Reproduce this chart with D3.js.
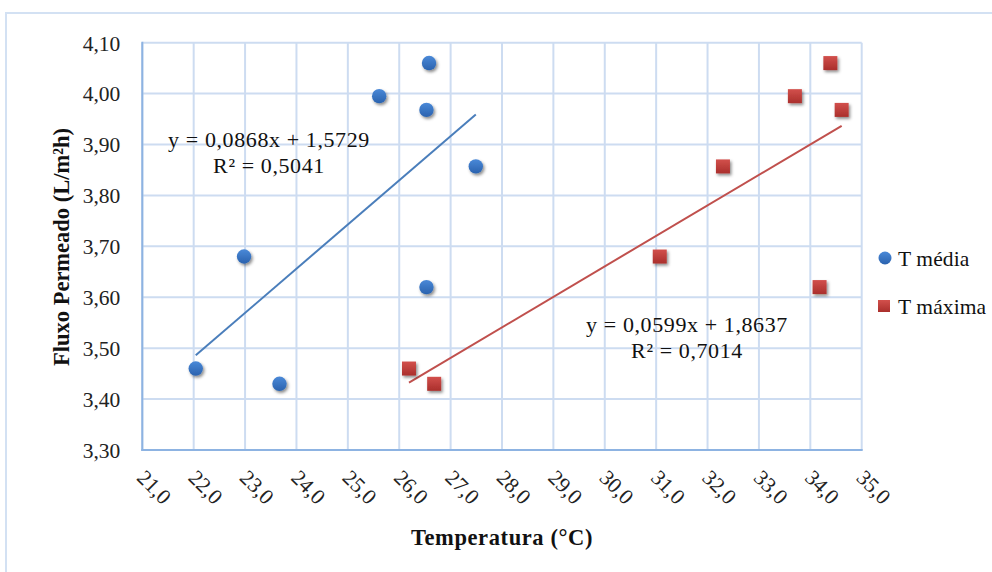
<!DOCTYPE html>
<html>
<head>
<meta charset="utf-8">
<script src="https://cdn.jsdelivr.net/npm/d3@7"></script>
<style>
  html, body { margin: 0; padding: 0; background: #ffffff; }
  svg { display: block; }
</style>
</head>
<body>
<div id="chart"></div>
<script>
// ---------------- data ----------------
const fluxo = [3.46, 3.68, 3.43, 3.995, 4.06, 3.968, 3.62, 3.857];
const tMedia = [22.04, 22.98, 23.67, 25.61, 26.58, 26.53, 26.53, 27.49];
const tMaxima = [26.19, 31.07, 26.68, 33.70, 34.39, 34.61, 34.18, 32.30];
const seriesNames = ["T média", "T máxima"];
const trendMedia = { slope: 0.0868, intercept: 1.5729, eq: "y = 0,0868x + 1,5729", r2: "R² = 0,5041" };
const trendMaxima = { slope: 0.0599, intercept: 1.8637, eq: "y = 0,0599x + 1,8637", r2: "R² = 0,7014" };
const xTicks = [21, 22, 23, 24, 25, 26, 27, 28, 29, 30, 31, 32, 33, 34, 35];
const yTicks = [3.30, 3.40, 3.50, 3.60, 3.70, 3.80, 3.90, 4.00, 4.10];
const xTitle = "Temperatura (°C)";
const yTitle = "Fluxo Permeado (L/m²h)";

// ---------------- setup ----------------
const W = 992, H = 572;
const plot = { left: 142.3, right: 861.7, top: 42.7, bottom: 450 };
const serif = "'Liberation Serif', 'Times New Roman', Times, serif";
const blueLine = "#4a7ebb", redLine = "#c0504d";
const gridColor = "#cddcf1", axisColor = "#8db3e2";

const locale = d3.formatLocale({ decimal: ",", thousands: ".", grouping: [3], currency: ["", ""] });
const fx = locale.format(".1f"), fy = locale.format(".2f");

const svg = d3.select("#chart").append("svg").attr("width", W).attr("height", H);
svg.append("rect").attr("width", W).attr("height", H).attr("fill", "#fff");

const defs = svg.append("defs");
const sh = defs.append("filter").attr("id", "shadow").attr("x", "-50%").attr("y", "-50%").attr("width", "200%").attr("height", "200%");
sh.append("feDropShadow").attr("dx", 1.5).attr("dy", 2).attr("stdDeviation", 1.6)
  .attr("flood-color", "#000").attr("flood-opacity", 0.45);
const gB = defs.append("linearGradient").attr("id", "gBlue").attr("x1", 0).attr("y1", 0).attr("x2", 0).attr("y2", 1);
gB.append("stop").attr("offset", "0%").attr("stop-color", "#4a89d8");
gB.append("stop").attr("offset", "100%").attr("stop-color", "#2a62ae");
const gR = defs.append("linearGradient").attr("id", "gRed").attr("x1", 0).attr("y1", 0).attr("x2", 0).attr("y2", 1);
gR.append("stop").attr("offset", "0%").attr("stop-color", "#d2504c");
gR.append("stop").attr("offset", "100%").attr("stop-color", "#aa2f2c");

// outer chart frame
svg.append("rect").attr("x", 6).attr("y", 13).attr("width", W + 20).attr("height", H + 20)
  .attr("fill", "none").attr("stroke", "#d3e1f3").attr("stroke-width", 2);

const x = d3.scaleLinear().domain([d3.min(xTicks), d3.max(xTicks)]).range([plot.left, plot.right]);
const y = d3.scaleLinear().domain([d3.min(yTicks), d3.max(yTicks)]).range([plot.bottom, plot.top]);

// grid
const grid = svg.append("g");
grid.selectAll(".vg").data(xTicks).join("line")
  .attr("x1", d => x(d)).attr("x2", d => x(d)).attr("y1", plot.top).attr("y2", plot.bottom)
  .attr("stroke", gridColor).attr("stroke-width", 2);
grid.selectAll(".hg").data(yTicks).join("line")
  .attr("x1", plot.left).attr("x2", plot.right).attr("y1", d => y(d)).attr("y2", d => y(d))
  .attr("stroke", gridColor).attr("stroke-width", 2);

// axes lines
svg.append("line").attr("x1", plot.left).attr("x2", plot.left).attr("y1", plot.top - 1).attr("y2", plot.bottom + 1)
  .attr("stroke", axisColor).attr("stroke-width", 2);
svg.append("line").attr("x1", plot.left - 1).attr("x2", plot.right + 1).attr("y1", plot.bottom).attr("y2", plot.bottom)
  .attr("stroke", axisColor).attr("stroke-width", 2);

// y axis labels
const yAxis = svg.append("g").attr("transform", `translate(${plot.left},0)`)
  .call(d3.axisLeft(y).tickValues(yTicks).tickFormat(fy).tickSize(0).tickPadding(22));
yAxis.select(".domain").remove();
yAxis.selectAll("text").attr("font-family", serif).attr("font-size", 21.5).attr("fill", "#222")
  .attr("dy", "0.34em");

// x axis labels (rotated 45°)
const xAxis = svg.append("g").attr("transform", `translate(0,${plot.bottom})`)
  .call(d3.axisBottom(x).tickValues(xTicks).tickFormat(fx).tickSize(0));
xAxis.select(".domain").remove();
xAxis.selectAll("text").attr("font-family", serif).attr("font-size", 21.5).attr("fill", "#222")
  .attr("text-anchor", "start").attr("dy", 0).attr("y", 0)
  .attr("transform", "translate(-7,29) rotate(45)");

// titles
svg.append("text").attr("x", 502).attr("y", 545).attr("text-anchor", "middle")
  .attr("font-family", serif).attr("font-weight", "bold").attr("font-size", 22.5).attr("letter-spacing", 0.6)
  .attr("fill", "#111").text(xTitle);
svg.append("text").attr("transform", "translate(69,247) rotate(-90)").attr("text-anchor", "middle")
  .attr("font-family", serif).attr("font-weight", "bold").attr("font-size", 22.5).attr("fill", "#111").text(yTitle);

// trendlines
function trend(xs, t, color) {
  const x0 = d3.min(xs), x1 = d3.max(xs);
  svg.append("line")
    .attr("x1", x(x0)).attr("y1", y(t.slope * x0 + t.intercept))
    .attr("x2", x(x1)).attr("y2", y(t.slope * x1 + t.intercept))
    .attr("stroke", color).attr("stroke-width", 2);
}
trend(tMedia, trendMedia, blueLine);
trend(tMaxima, trendMaxima, redLine);

// markers
const mMedia = tMedia.map((t, i) => ({ x: t, y: fluxo[i] }));
const mMax = tMaxima.map((t, i) => ({ x: t, y: fluxo[i] }));
svg.append("g").attr("filter", "url(#shadow)").selectAll("circle").data(mMedia).join("circle")
  .attr("cx", d => x(d.x)).attr("cy", d => y(d.y)).attr("r", 7.2).attr("fill", "url(#gBlue)");
svg.append("g").attr("filter", "url(#shadow)").selectAll("rect").data(mMax).join("rect")
  .attr("x", d => x(d.x) - 7).attr("y", d => y(d.y) - 7).attr("width", 14).attr("height", 14).attr("fill", "url(#gRed)");

// equation labels
function eqLabel(t, cx, by) {
  const g = svg.append("g").attr("font-family", serif).attr("font-size", 22).attr("letter-spacing", 0.6)
    .attr("fill", "#111").attr("text-anchor", "middle");
  g.append("text").attr("x", cx).attr("y", by).text(t.eq);
  g.append("text").attr("x", cx).attr("y", by + 26).text(t.r2);
}
eqLabel(trendMedia, 269, 147);
eqLabel(trendMaxima, 687, 332);

// legend
const leg = svg.append("g").attr("font-family", serif).attr("font-size", 21.5).attr("letter-spacing", 0.1).attr("fill", "#111");
leg.append("circle").attr("cx", 885).attr("cy", 258).attr("r", 6.5).attr("fill", "url(#gBlue)");
leg.append("text").attr("x", 898).attr("y", 266).text(seriesNames[0]);
leg.append("rect").attr("x", 878).attr("y", 300).attr("width", 12).attr("height", 12).attr("fill", "url(#gRed)");
leg.append("text").attr("x", 898).attr("y", 314).text(seriesNames[1]);
</script>
</body>
</html>
